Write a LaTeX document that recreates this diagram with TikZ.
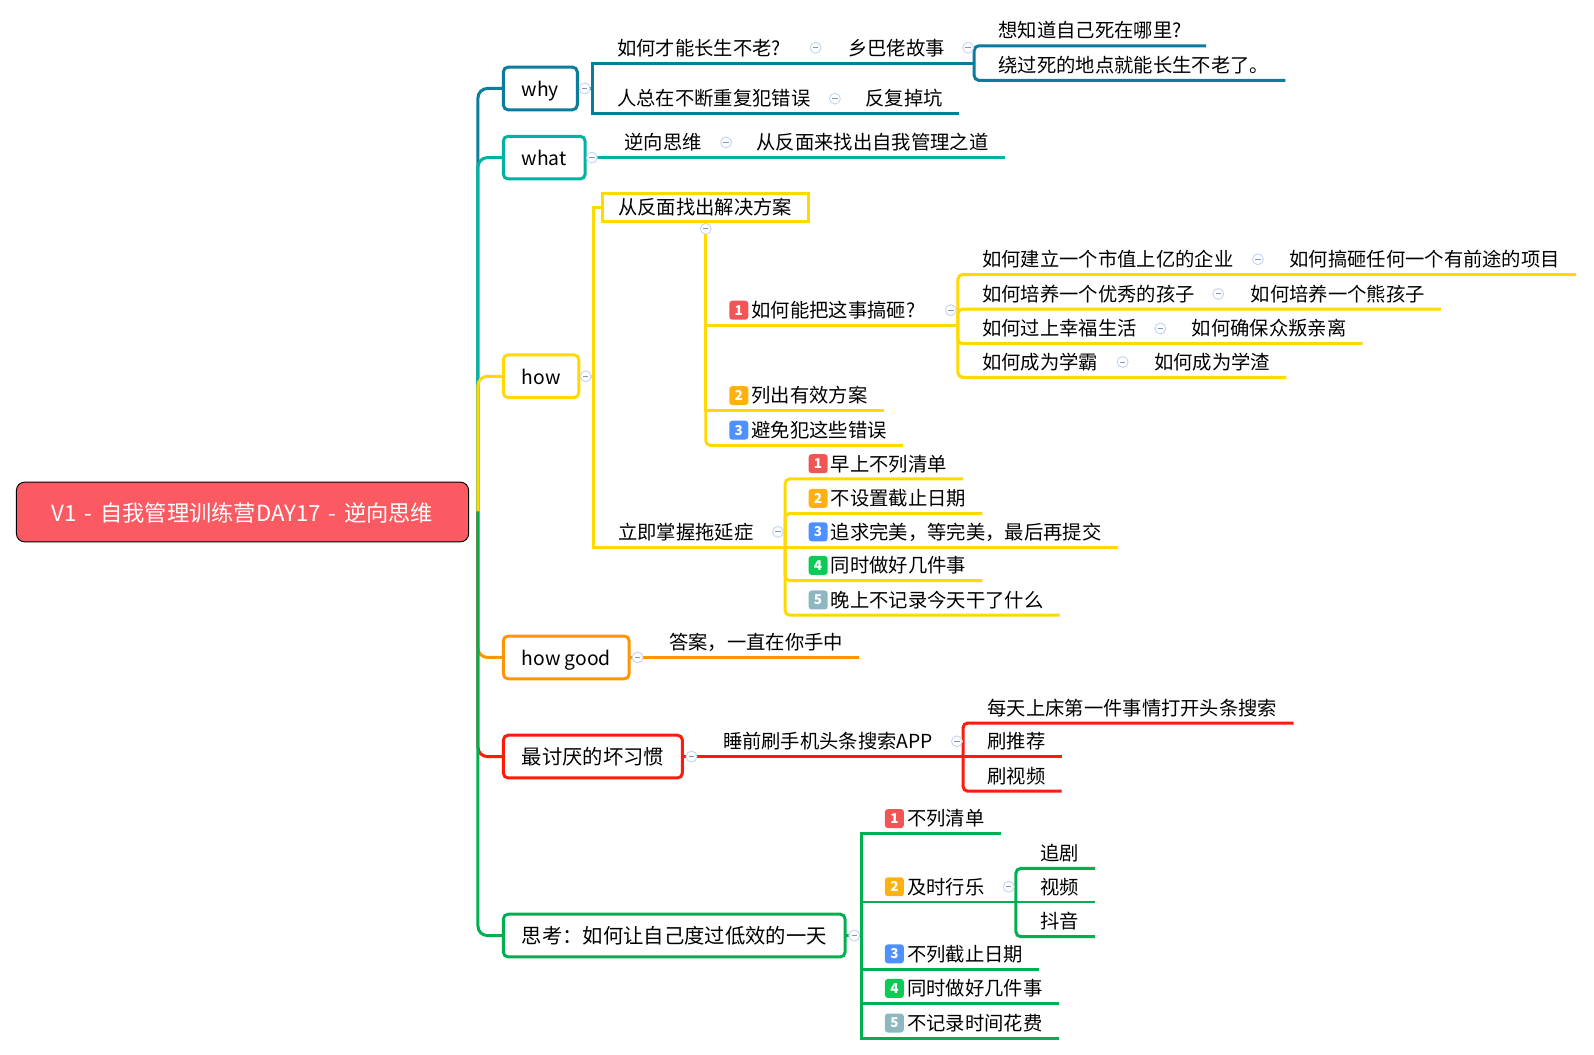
\documentclass[tikz,border=0pt]{standalone}
\usepackage{fontspec}
\setmainfont{Noto Sans CJK SC}
\usepackage{tikz}
\usetikzlibrary{positioning,calc,shapes}
\definecolor{cwhy}{HTML}{0B7C9E}
\definecolor{cwhat}{HTML}{00B2A1}
\definecolor{chow}{HTML}{FFD900}
\definecolor{cgood}{HTML}{FF9500}
\definecolor{cbad}{HTML}{FF1A0A}
\definecolor{cthink}{HTML}{00B050}
\definecolor{croot}{HTML}{FB5A62}
\definecolor{tagone}{HTML}{F25555}
\definecolor{tagtwo}{HTML}{FFB20F}
\definecolor{tagthree}{HTML}{4D90FE}
\definecolor{tagfour}{HTML}{0CCB55}
\definecolor{tagfive}{HTML}{8DB8C0}
\definecolor{foldc}{HTML}{C5D4F5}
\definecolor{foldm}{HTML}{8494B4}
\tikzstyle{rootnod}=[draw=black, fill=croot, line width=0.7pt, rounded corners=6pt, minimum width=333.5pt, minimum height=44pt, inner sep=0pt, text=white, text height=15.5pt, text depth=1.6pt, font=\fontsize{16.4}{18}\selectfont]
\tikzstyle{topic}=[draw, fill=white, line width=2.2pt, rounded corners=3.5pt, anchor=west, inner xsep=13.5pt, inner ysep=0pt, outer sep=0pt, minimum height=31.5pt, text=black, text height=14pt, text depth=1.7pt, font=\fontsize{14.25}{16}\selectfont]
\tikzstyle{bigcjk}=[font=\fontsize{15}{17}\selectfont]
\tikzstyle{leaf}=[anchor=south west, inner xsep=12pt, inner ysep=0pt, outer sep=0pt, minimum height=22.5pt, text height=12.5pt, text depth=1.7pt, font=\fontsize{14.25}{16}\selectfont]
\tikzstyle{numtag}=[rounded corners=2.2pt, minimum size=14pt, inner sep=0pt, text=white, font=\bfseries\fontsize{10}{10}\selectfont]
\tikzstyle{fold}=[circle, draw=foldc, fill=white, line width=0.7pt, minimum size=8pt, inner sep=0pt, path picture={\draw[foldm, line width=0.6pt] ([xshift=-2pt]path picture bounding box.center) -- ([xshift=2pt]path picture bounding box.center);}]
\tikzstyle{lwhy}=[draw=cwhy, line width=2.2pt]
\tikzstyle{lwhat}=[draw=cwhat, line width=2.2pt]
\tikzstyle{lhow}=[draw=chow, line width=2.2pt]
\tikzstyle{lgood}=[draw=cgood, line width=2.2pt]
\tikzstyle{lbad}=[draw=cbad, line width=2.2pt]
\tikzstyle{lthink}=[draw=cthink, line width=2.2pt]
\newcommand{\bgap}{\hspace*{15.75pt}}
\newcommand{\numbadge}[3]{\node[numtag, fill=#3] (#1tag) at ([shift={(24.5,-15)}]#1.south west) {#2};}
\begin{document}
\begin{tikzpicture}[x=0.75pt, y=-0.75pt]
	\useasboundingbox (0,0) rectangle (1567.5,1036.5);
	\node[rootnod] (root) at (238.5,503.5) {\spaceskip=5.8pt V1 - 自我管理训练营DAY17 - 逆向思维};
	\coordinate (trunk) at (470,503);

	% main branches
	\node[topic, draw=cwhy] (why) at (495,87) {why};
	\node[topic, draw=cwhat] (what) at (495,155) {what};
	\node[topic, draw=chow] (how) at (495,370) {how};
	\node[topic, draw=cgood] (good) at (495,646.5) {how good};
	\node[topic, bigcjk, draw=cbad] (bad) at (495,744) {最讨厌的坏习惯};
	\node[topic, bigcjk, draw=cthink] (think) at (495,920) {思考：如何让自己度过低效的一天};
	\draw[lwhy, rounded corners=7pt] (trunk) |- (why.west);
	\draw[lwhat, rounded corners=7pt] (trunk) |- (what.west);
	\draw[lhow, rounded corners=7pt] (trunk) |- (how.west);
	\draw[lgood, rounded corners=7pt] (trunk) |- (good.west);
	\draw[lbad, rounded corners=7pt] (trunk) |- (bad.west);
	\draw[lthink, rounded corners=7pt] (trunk) |- (think.west);

	% why
	\coordinate (jwhy) at (583,87);
	\node[leaf] (w1) at (591,62) {如何才能长生不老?};
	\node[leaf] (w2) at (818,62) {乡巴佬故事};
	\coordinate (jw2) at (958,62);
	\node[leaf] (w3) at (966,45) {想知道自己死在哪里?\hspace*{6pt}};
	\node[leaf] (w4) at (966,79) {绕过死的地点就能长生不老了。};
	\node[leaf] (w5) at (591,112) {人总在不断重复犯错误};
	\node[leaf] (w6) at (835,112) {反复掉坑};
	\draw[lwhy] (why.east) -- (jwhy);
	\draw[lwhy] (jwhy) |- (w1.south west) -- (w2.south east) -- (jw2);
	\draw[lwhy, rounded corners=3.5pt] (jw2) |- (w3.south west) -- (w3.south east);
	\draw[lwhy, rounded corners=3.5pt] (jw2) |- (w4.south west) -- (w4.south east);
	\draw[lwhy] (jwhy) |- (w5.south west) -- (w6.south east);

	% what
	\node[leaf] (a1) at (598,155) {逆向思维};
	\node[leaf] (a2) at (728,155) {从反面来找出自我管理之道};
	\draw[lwhat] (what.east) -- (a2.south east);

	% how
	\coordinate (jhow) at (584,370);
	\node[leaf, lhow, minimum height=21pt, inner xsep=12pt] (h1) at (592,218) {从反面找出解决方案};
	\coordinate (jh1) at (694,218);
	\node[leaf] (h2) at (702,320) {\bgap 如何能把这事搞砸?};
	\coordinate (jh2) at (942,320);
	\node[leaf] (h3) at (702,404) {\bgap 列出有效方案};
	\node[leaf] (h4) at (702,438) {\bgap 避免犯这些错误};
	\node[leaf] (p1) at (950,270) {如何建立一个市值上亿的企业};
	\node[leaf] (q1) at (1252,270) {如何搞砸任何一个有前途的项目};
	\node[leaf] (p2) at (950,304) {如何培养一个优秀的孩子};
	\node[leaf] (q2) at (1214,304) {如何培养一个熊孩子};
	\node[leaf] (p3) at (950,338) {如何过上幸福生活};
	\node[leaf] (q3) at (1156,338) {如何确保众叛亲离};
	\node[leaf] (p4) at (950,371) {如何成为学霸};
	\node[leaf] (q4) at (1119,371) {如何成为学渣};
	\node[leaf] (h5) at (592,538) {立即掌握拖延症};
	\coordinate (jh5) at (772,538);
	\node[leaf] (r1) at (780,471) {\bgap 早上不列清单};
	\node[leaf] (r2) at (780,505) {\bgap 不设置截止日期};
	\node[leaf] (r3) at (780,538) {\bgap 追求完美，等完美，最后再提交};
	\node[leaf] (r4) at (780,571) {\bgap 同时做好几件事};
	\node[leaf] (r5) at (780,605) {\bgap 晚上不记录今天干了什么};
	\draw[lhow] (how.east) -- (jhow);
	\draw[lhow] (jhow) |- (h1.west);
	\draw[lhow] (jhow) |- (h5.south west) -- (jh5);
	\draw[lhow, rounded corners=3.5pt] (jh1) |- (h4.south west) -- (h4.south east);
	\draw[lhow] (jh1) |- (h2.south west) -- (jh2);
	\draw[lhow] (jh1) |- (h3.south west) -- (h3.south east);
	\draw[lhow, rounded corners=3.5pt] (jh2) |- (p1.south west) -- (q1.south east);
	\draw[lhow, rounded corners=3.5pt] (jh2) |- (p2.south west) -- (q2.south east);
	\draw[lhow, rounded corners=3.5pt] (jh2) |- (p3.south west) -- (q3.south east);
	\draw[lhow, rounded corners=3.5pt] (jh2) |- (p4.south west) -- (q4.south east);
	\draw[lhow, rounded corners=3.5pt] (jh5) |- (r1.south west) -- (r1.south east);
	\draw[lhow, rounded corners=3.5pt] (jh5) |- (r2.south west) -- (r2.south east);
	\draw[lhow] (jh5) |- (r3.south west) -- (r3.south east);
	\draw[lhow, rounded corners=3.5pt] (jh5) |- (r4.south west) -- (r4.south east);
	\draw[lhow, rounded corners=3.5pt] (jh5) |- (r5.south west) -- (r5.south east);

	% how good
	\node[leaf] (g1) at (642,646.5) {答案，一直在你手中};
	\draw[lgood] (good.east) -- (g1.south east);

	% bad habit
	\node[leaf] (b1) at (695,744) {睡前刷手机头条搜索APP};
	\coordinate (jb1) at (947,744);
	\node[leaf] (b2) at (955,711) {每天上床第一件事情打开头条搜索};
	\node[leaf] (b3) at (955,744) {刷推荐};
	\node[leaf] (b4) at (955,778) {刷视频};
	\draw[lbad] (bad.east) -- (jb1);
	\draw[lbad, rounded corners=3.5pt] (jb1) |- (b2.south west) -- (b2.south east);
	\draw[lbad] (jb1) -- (b3.south west) -- (b3.south east);
	\draw[lbad, rounded corners=3.5pt] (jb1) |- (b4.south west) -- (b4.south east);

	% think
	\coordinate (jthink) at (847,920);
	\node[leaf] (t1) at (855,820) {\bgap 不列清单};
	\node[leaf] (t2) at (855,887) {\bgap 及时行乐};
	\coordinate (jt2) at (999,887);
	\node[leaf] (t3) at (855,953) {\bgap 不列截止日期};
	\node[leaf] (t4) at (855,987) {\bgap 同时做好几件事};
	\node[leaf] (t5) at (855,1021) {\bgap 不记录时间花费};
	\node[leaf] (s1) at (1007,854) {追剧};
	\node[leaf] (s2) at (1007,887) {视频};
	\node[leaf] (s3) at (1007,921) {抖音};
	\draw[lthink] (think.east) -- (jthink);
	\draw[lthink] (jthink) |- (t1.south west) -- (t1.south east);
	\draw[lthink] (jthink) |- (t2.south west) -- (jt2);
	\draw[lthink] (jthink) |- (t3.south west) -- (t3.south east);
	\draw[lthink] (jthink) |- (t4.south west) -- (t4.south east);
	\draw[lthink] (jthink) |- (t5.south west) -- (t5.south east);
	\draw[lthink, rounded corners=3.5pt] (jt2) |- (s1.south west) -- (s1.south east);
	\draw[lthink] (jt2) -- (s2.south west) -- (s2.south east);
	\draw[lthink, rounded corners=3.5pt] (jt2) |- (s3.south west) -- (s3.south east);

	% number marks
	\numbadge{h2}{1}{tagone}
	\numbadge{h3}{2}{tagtwo}
	\numbadge{h4}{3}{tagthree}
	\numbadge{r1}{1}{tagone}
	\numbadge{r2}{2}{tagtwo}
	\numbadge{r3}{3}{tagthree}
	\numbadge{r4}{4}{tagfour}
	\numbadge{r5}{5}{tagfive}
	\numbadge{t1}{1}{tagone}
	\numbadge{t2}{2}{tagtwo}
	\numbadge{t3}{3}{tagthree}
	\numbadge{t4}{4}{tagfour}
	\numbadge{t5}{5}{tagfive}

	% fold marks
	\node[fold] (f1) at (575,87) {};
	\node[fold] (f2) at (802,47) {};
	\node[fold] (f3) at (952,47) {};
	\node[fold] (f4) at (821,97) {};
	\node[fold] (f5) at (582,155) {};
	\node[fold] (f6) at (714,140) {};
	\node[fold] (f7) at (576,370) {};
	\node[fold] (f8) at (694,225) {};
	\node[fold] (f9) at (935,305) {};
	\node[fold] (f10) at (1237,255) {};
	\node[fold] (f11) at (1198,289) {};
	\node[fold] (f12) at (1141,323) {};
	\node[fold] (f13) at (1104,356) {};
	\node[fold] (f14) at (765,523) {};
	\node[fold] (f15) at (627,646.5) {};
	\node[fold] (f16) at (680,744) {};
	\node[fold] (f17) at (941,729) {};
	\node[fold] (f18) at (840,920) {};
	\node[fold] (f19) at (992,872) {};
\end{tikzpicture}
\end{document}
